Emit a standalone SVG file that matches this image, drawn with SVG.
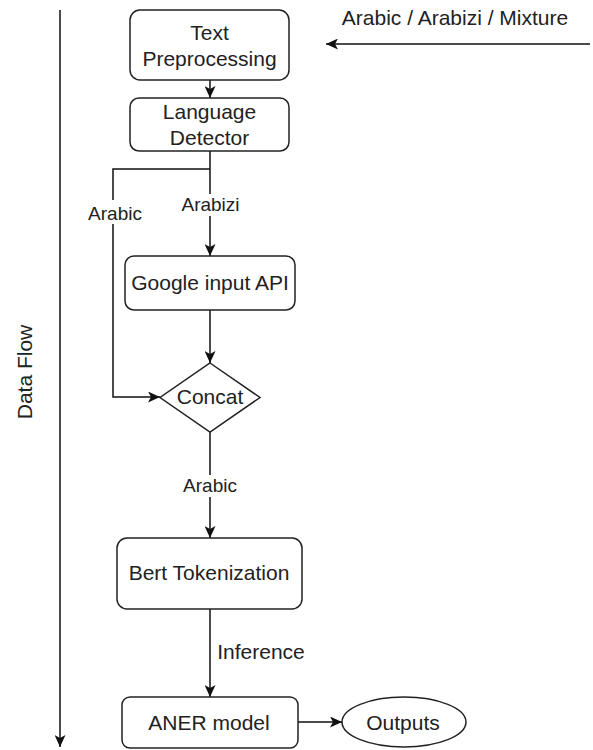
<svg xmlns="http://www.w3.org/2000/svg" width="593" height="750" viewBox="0 0 593 750">
<style>
.box{fill:#fff;stroke:#222;stroke-width:1.5}
.edge{fill:none;stroke:#111;stroke-width:1.5}
.t{font-family:"Liberation Sans",Arial,sans-serif;font-size:21px;fill:#222;text-anchor:middle}
.lbl{font-family:"Liberation Sans",Arial,sans-serif;font-size:19px;fill:#222;text-anchor:middle}
.bg{fill:#fff;stroke:none}
</style>
<defs>
<marker id="arr" markerUnits="userSpaceOnUse" markerWidth="13" markerHeight="11" refX="12" refY="5.5" orient="auto">
<path d="M0,0 L12,5.5 L0,11 L3,5.5 z" fill="#111"/>
</marker>
</defs>
<g id="connectors">
<path class="edge" d="M60,10 V747" marker-end="url(#arr)"/>
<path class="edge" d="M590,44 H326" marker-end="url(#arr)"/>
<path class="edge" d="M210,80 V98" marker-end="url(#arr)"/>
<path class="edge" d="M210,151 V256" marker-end="url(#arr)"/>
<path class="edge" d="M210,169 H113 V397 H160" marker-end="url(#arr)"/>
<path class="edge" d="M210,310 V363" marker-end="url(#arr)"/>
<path class="edge" d="M210,432 V538" marker-end="url(#arr)"/>
<path class="edge" d="M210,609 V697" marker-end="url(#arr)"/>
<path class="edge" d="M298,722 H342" marker-end="url(#arr)"/>
<rect class="bg" x="179" y="194" width="63" height="22"/>
<text class="lbl" x="210.5" y="210.5">Arabizi</text>
<rect class="bg" x="85" y="200" width="59" height="24"/>
<text class="lbl" x="115" y="220">Arabic</text>
<rect class="bg" x="181" y="475" width="59" height="22"/>
<text class="lbl" x="210" y="492">Arabic</text>
<text class="t" x="261" y="659">Inference</text>
<text class="t" x="455" y="25">Arabic / Arabizi / Mixture</text>
<text class="t" transform="translate(32,372) rotate(-90)" x="0" y="0">Data Flow</text>
</g>
<g id="text-preprocessing">
<rect class="box" x="130" y="10" width="159" height="70" rx="10"/>
<text class="t" x="209.5" y="39.5">Text</text>
<text class="t" x="209.5" y="66">Preprocessing</text>
</g>
<g id="language-detector">
<rect class="box" x="130" y="98" width="159" height="53" rx="9"/>
<text class="t" x="209.5" y="119">Language</text>
<text class="t" x="209.5" y="145">Detector</text>
</g>
<g id="google-input-api">
<rect class="box" x="125" y="256" width="170" height="54" rx="9"/>
<text class="t" x="210" y="290">Google input API</text>
</g>
<g id="concat">
<polygon class="box" points="210,363 260,397.5 210,432 160,397.5"/>
<text class="t" x="210" y="404">Concat</text>
</g>
<g id="bert-tokenization">
<rect class="box" x="117" y="538" width="185" height="71" rx="10"/>
<text class="t" x="209" y="580">Bert Tokenization</text>
</g>
<g id="aner-model">
<rect class="box" x="122" y="697" width="176" height="51" rx="8"/>
<text class="t" x="209" y="730">ANER model</text>
</g>
<g id="outputs">
<ellipse class="box" cx="404" cy="722" rx="62" ry="25"/>
<text class="t" x="403" y="730">Outputs</text>
</g>
</svg>
